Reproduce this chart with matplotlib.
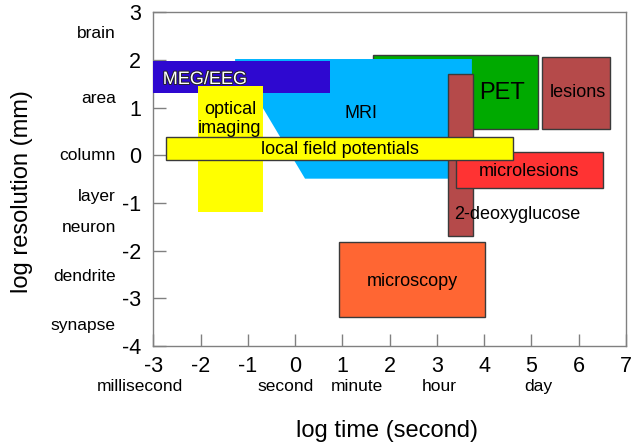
import matplotlib
matplotlib.use("Agg")
import matplotlib.pyplot as plt
from matplotlib.patches import Rectangle, Polygon
import matplotlib.patheffects as pe

plt.rcParams['font.family'] = ['Liberation Sans', 'DejaVu Sans']

# ---- data (log10 seconds on x, log10 mm on y) ----
# rectangles: x0, x1, y0, y1
meg_eeg = [-3.0, 0.74, 1.31, 1.985]
optical = [-2.05, -0.68, -1.18, 1.45]
pet = [1.64, 5.13, 0.55, 2.10]
lesions = [5.22, 6.66, 0.55, 2.07]
deoxyglucose = [3.24, 3.77, -1.69, 1.71]
microlesions = [3.40, 6.51, -0.68, 0.08]
lfp = [-2.73, 4.60, -0.10, 0.39]
microscopy = [0.93, 4.01, -3.40, -1.82]
# MRI outline vertices (x, y)
mri_x = [-1.27, 3.74, 3.74, 0.21, -0.68, -1.27]
mri_y = [2.02, 2.02, -0.49, -0.49, 0.99, 0.99]

x_ticks = [-3, -2, -1, 0, 1, 2, 3, 4, 5, 6, 7]
y_ticks = [-4, -3, -2, -1, 0, 1, 2, 3]
time_names = ['millisecond', 'second', 'minute', 'hour', 'day']
time_pos = [-3.28, -0.21, 1.31, 3.04, 5.14]
space_names = ['brain', 'area', 'column', 'layer', 'neuron', 'dendrite', 'synapse']
space_pos = [2.55, 1.20, 0.0, -0.87, -1.52, -2.55, -3.58]

W, H = 633, 444
fig = plt.figure(figsize=(W / 100, H / 100), dpi=100)
ax = fig.add_axes([153.3 / W, 1 - 346 / H, (626 - 153.3) / W, (346 - 12.3) / H])
ax.set_xlim(-3, 7)
ax.set_ylim(-4, 3)

edge = '#3a3a3a'

def rect(r, color, ec=None, z=1):
    x0, x1, y0, y1 = r
    ax.add_patch(Rectangle((x0, y0), x1 - x0, y1 - y0, facecolor=color,
                           edgecolor=ec if ec else 'none', linewidth=1.0, zorder=z))

rect(pet, '#00aa00', edge, z=1)
ax.add_patch(Polygon(list(zip(mri_x, mri_y)), closed=True, facecolor='#00b4ff',
                     edgecolor='none', zorder=2))
rect(meg_eeg, '#2e08d0', None, z=3)
rect(optical, '#ffff00', None, z=4)
rect(lesions, '#b54a4a', edge, z=4)
rect(deoxyglucose, '#b54a4a', edge, z=5)
rect(microlesions, '#ff3333', edge, z=6)
rect(lfp, '#ffff00', edge, z=7)
rect(microscopy, '#ff6633', edge, z=7)

tk = dict(zorder=10, color='black')
d = 0.04
ax.text(-2.80, 1.63 - d, 'MEG/EEG', fontsize=13, color='white', ha='left', va='center',
        zorder=10, path_effects=[pe.withStroke(linewidth=1.4, foreground='#222222')])
ax.text(-1.38, 0.77, 'optical\nimaging', fontsize=13, ha='center', va='center',
        linespacing=1.15, zorder=5, color='black')
ax.text(1.39, 0.91 - d, 'MRI', fontsize=13, ha='center', va='center', **tk)
ax.text(0.95, 0.16 - d, 'local field potentials', fontsize=13, ha='center', va='center', **tk)
ax.text(4.37, 1.34 - d, 'PET', fontsize=17, ha='center', va='center', **tk)
ax.text(5.98, 1.35 - d, 'lesions', fontsize=13, ha='center', va='center', **tk)
ax.text(4.95, -0.30 - d, 'microlesions', fontsize=13, ha='center', va='center', **tk)
ax.text(4.70, -1.21 - d, '2-deoxyglucose', fontsize=13, ha='center', va='center', **tk)
ax.text(2.47, -2.61 - d, 'microscopy', fontsize=13, ha='center', va='center', **tk)

ax.set_xticks(x_ticks)
ax.set_yticks(y_ticks)
ax.set_xticklabels([str(v) for v in x_ticks])
ax.set_yticklabels([str(v) for v in y_ticks])
ax.tick_params(direction='in', length=9, width=1, color='#808080', labelsize=15.5,
               pad=7)
ax.tick_params(axis='y', pad=9)
for s in ax.spines.values():
    s.set_color('#808080')
    s.set_linewidth(1.0)

ytr = ax.get_yaxis_transform()
for n, p in zip(space_names, space_pos):
    ax.text(-0.079, p, n, transform=ytr, ha='right', va='center', fontsize=12.5,
            clip_on=False)
xtr = ax.get_xaxis_transform()
for n, p in zip(time_names, time_pos):
    ax.text(p, -0.122, n, transform=xtr, ha='center', va='center', fontsize=12.5,
            clip_on=False)

fig.text(22 / W, 1 - 191.7 / H, 'log resolution (mm)', rotation=90, ha='center',
         va='center', fontsize=17)
fig.text(387 / W, 1 - 431 / H, 'log time (second)', ha='center', va='center',
         fontsize=17)

fig.savefig('out.png', dpi=100)
